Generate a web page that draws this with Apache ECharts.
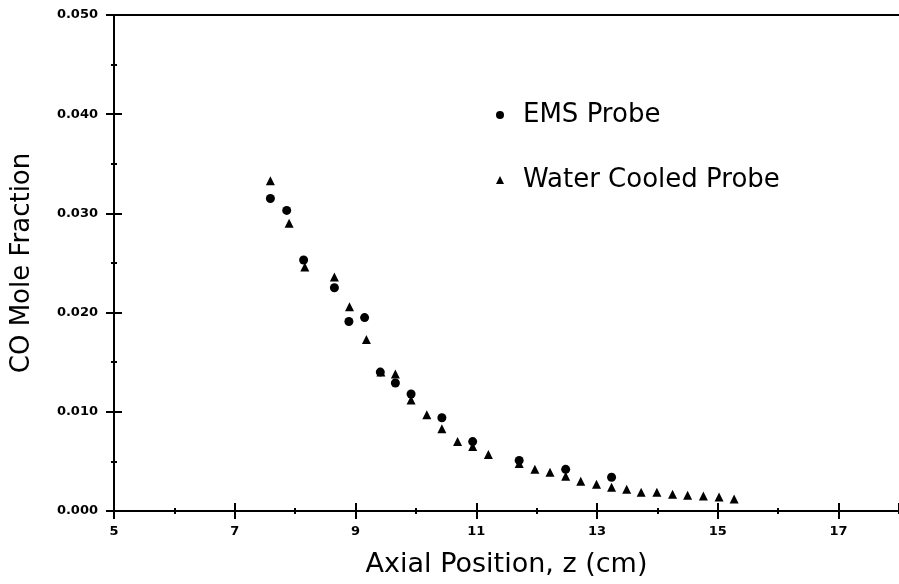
<!DOCTYPE html>
<html>
<head>
<meta charset="utf-8">
<script src="https://cdn.jsdelivr.net/npm/echarts@6/dist/echarts.min.js"></script>
<style>html,body{margin:0;padding:0;background:#fff}#c{width:899px;height:584px}</style>
</head>
<body>
<div id="c"></div>
<script>
// EMS Probe (circles)
const emsX = [7.59, 7.86, 8.14, 8.65, 8.89, 9.15, 9.41, 9.66, 9.92, 10.43, 10.94, 11.71, 12.48, 13.24];
const emsY = [0.0315, 0.0303, 0.0253, 0.0225, 0.0191, 0.0195, 0.0140, 0.0129, 0.0118, 0.0094, 0.0070, 0.0051, 0.0042, 0.0034];
// Water Cooled Probe (triangles)
const wcX = [7.59, 7.90, 8.16, 8.65, 8.90, 9.18, 9.42, 9.66, 9.92, 10.18, 10.43, 10.69, 10.94, 11.20, 11.71, 11.97, 12.22, 12.48, 12.73, 12.99, 13.24, 13.49, 13.73, 13.99, 14.25, 14.50, 14.76, 15.02, 15.27];
const wcY = [0.0333, 0.0290, 0.0246, 0.0236, 0.0206, 0.0173, 0.0140, 0.0138, 0.0112, 0.0097, 0.0083, 0.0070, 0.0065, 0.0057, 0.0048, 0.0042, 0.0039, 0.0035, 0.0030, 0.0027, 0.0024, 0.0022, 0.0019, 0.0019, 0.0017, 0.0016, 0.0015, 0.0014, 0.0012];
const xTickLabels = ['5', '7', '9', '11', '13', '15', '17'];
const yTickLabels = ['0.000', '0.010', '0.020', '0.030', '0.040', '0.050'];

const FONT = 'DejaVu Sans';
const X_MIN = 5, X_MAX = 18, Y_MIN = 0, Y_MAX = 0.05;

function xAx(extra) {
  return Object.assign({
    type: 'value', min: X_MIN, max: X_MAX, interval: 1, position: 'bottom',
    splitLine: { show: false },
    axisLine: { show: false },
    axisLabel: { show: false },
    axisTick: { show: false }
  }, extra);
}
function yAx(extra) {
  return Object.assign({
    type: 'value', min: Y_MIN, max: Y_MAX, interval: 0.01, position: 'left',
    splitLine: { show: false },
    axisLine: { show: false },
    axisLabel: { show: false },
    axisTick: { show: false }
  }, extra);
}
const black = { color: '#000', width: 2 };

const chart = echarts.init(document.getElementById('c'), null, { renderer: 'canvas' });
chart.setOption({
  backgroundColor: '#fff',
  animation: false,
  textStyle: { fontFamily: FONT },
  grid: { left: 114, right: -4, top: 15, bottom: 73, containLabel: false },
  legend: {
    orient: 'vertical', left: 496, top: 100, padding: 0,
    itemWidth: 8, itemHeight: 8, itemGap: 35,
    textStyle: { fontFamily: FONT, fontSize: 26, color: '#000', lineHeight: 30, padding: [0, 0, 0, 14] },
    data: [
      { name: 'EMS Probe', icon: 'circle' },
      { name: 'Water Cooled Probe', icon: 'triangle' }
    ]
  },
  xAxis: [
    xAx({
      interval: 2,
      name: 'Axial Position, z (cm)', nameLocation: 'middle', nameGap: 40,
      nameTextStyle: { fontFamily: FONT, fontSize: 27, color: '#000' },
      axisLine: { show: true, lineStyle: black },
      axisTick: { show: true, length: 8, lineStyle: black },
      axisLabel: {
        show: true, margin: 14, showMaxLabel: false,
        fontFamily: FONT, fontWeight: 'bold', fontSize: 13, color: '#000',
        formatter: v => { const s = String(Math.round(v)); return xTickLabels.includes(s) ? s : ''; }
      }
    }),
    xAx({ interval: 2, axisTick: { show: true, inside: true, length: 8, lineStyle: black } }),
    xAx({ axisTick: { show: true, inside: true, length: 3, lineStyle: black } }),
    xAx({ axisTick: { show: true, inside: false, length: 3, lineStyle: black } }),
    xAx({ position: 'top', axisLine: { show: true, lineStyle: black } })
  ],
  yAxis: [
    yAx({
      name: 'CO Mole Fraction', nameLocation: 'middle', nameGap: 79,
      nameTextStyle: { fontFamily: FONT, fontSize: 26, color: '#000' },
      axisLine: { show: true, lineStyle: black },
      axisTick: { show: true, length: 8, lineStyle: black },
      axisLabel: {
        show: true, margin: 16,
        fontFamily: FONT, fontWeight: 'bold', fontSize: 13, color: '#000',
        formatter: v => yTickLabels[Math.round(v / 0.01)]
      }
    }),
    yAx({ axisTick: { show: true, inside: true, length: 8, lineStyle: black } }),
    yAx({ interval: 0.005, axisTick: { show: true, inside: true, length: 3, lineStyle: black } }),
    yAx({ interval: 0.005, axisTick: { show: true, inside: false, length: 3, lineStyle: black } })
  ],
  series: [
    {
      name: 'EMS Probe', type: 'scatter', symbol: 'circle', symbolSize: 9,
      itemStyle: { color: '#000', opacity: 1 },
      data: emsX.map((x, i) => [x, emsY[i]])
    },
    {
      name: 'Water Cooled Probe', type: 'scatter', symbol: 'triangle', symbolSize: 9,
      itemStyle: { color: '#000', opacity: 1 },
      data: wcX.map((x, i) => [x, wcY[i]])
    }
  ]
});
</script>
</body>
</html>
